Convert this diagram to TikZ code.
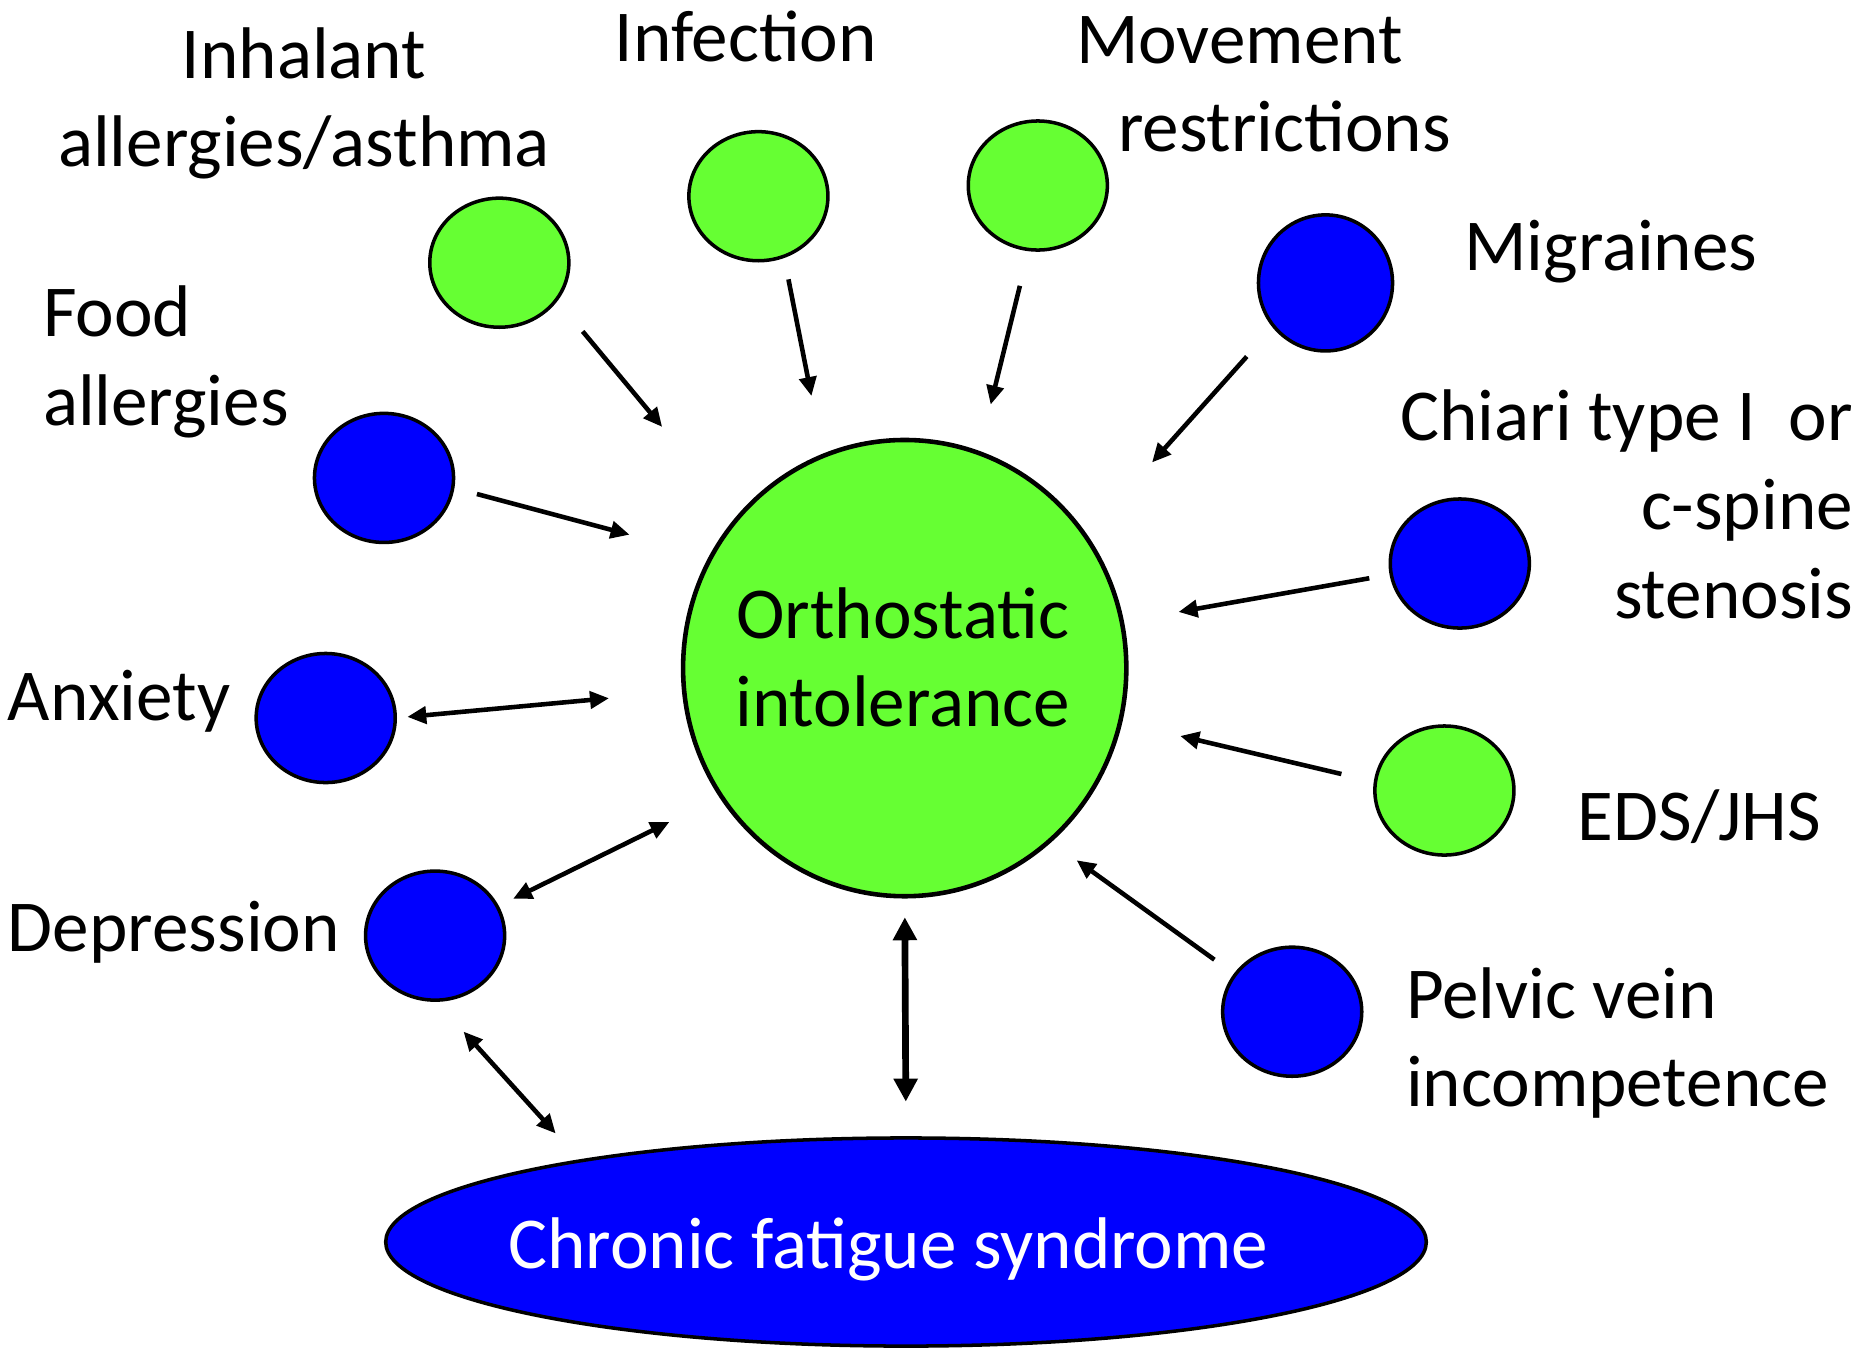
\documentclass[tikz,border=0pt]{standalone}
\usepackage{fontspec}
\setmainfont{Carlito}
\usepackage{tikz}
\usetikzlibrary{arrows.meta,shapes.geometric}
\definecolor{ohgreen}{RGB}{102,255,51}
\definecolor{ohblue}{RGB}{0,0,255}

\begin{document}
\begin{tikzpicture}[
  x=0.01cm, y=-0.01cm,
  font=\fontsize{20.8}{25.2}\selectfont,
  >={Triangle[length=1.9mm,width=1.7mm]},
  dot/.style={ellipse, draw=black, fill=#1, line width=1pt, inner sep=0pt, outer sep=0pt, minimum width=1.39cm, minimum height=1.29cm},
  dot/.default=ohblue,
  lbl/.style={inner sep=0pt, outer sep=0pt},
  flow/.style={line width=1.3pt, draw=black},
  bigflow/.style={line width=1.9pt, draw=black, {Triangle[length=2.3mm,width=2.3mm]}-{Triangle[length=2.3mm,width=2.3mm]}},
]
\useasboundingbox (0,0) rectangle (1864,1348);
% ---- centre and bottom ----
\node[ellipse, draw=black, fill=ohgreen, line width=1.3pt, inner sep=0pt, outer sep=0pt, minimum width=4.43cm, minimum height=4.56cm] (oi) at (904.7,668.1) {};
\node[lbl, anchor=base, align=center] (oilbl) at (902.8,726.7) {Orthostatic\\intolerance};
\node[ellipse, draw=black, fill=ohblue, line width=1pt, inner sep=0pt, outer sep=0pt, minimum width=10.4cm, minimum height=2.08cm] (cfs) at (906,1242) {};
\node[lbl, anchor=base, text=white] (cfslbl) at (888.4,1268.3) {Chronic fatigue syndrome};

% ---- factors ----
\node[dot=ohgreen] (inh) at (499.3,262.7) {};
\node[dot=ohgreen] (inf) at (758.4,196.2) {};
\node[dot=ohgreen] (mov) at (1037.8,185.5) {};
\node[dot, minimum width=1.34cm, minimum height=1.36cm] (mig) at (1325.5,282.9) {};
\node[dot] (food) at (384,477.9) {};
\node[dot] (chi) at (1459.8,563.5) {};
\node[dot] (anx) at (325.7,718) {};
\node[dot=ohgreen] (eds) at (1444.4,790.5) {};
\node[dot] (dep) at (435.1,935.6) {};
\node[dot] (pel) at (1292.2,1011.7) {};

% ---- labels (base = last line) ----
\node[lbl, anchor=base, align=center] (inhlbl) at (304,166.7) {Inhalant\\allergies/asthma};
\node[lbl, anchor=base] (inflbl) at (745.9,61.7) {Infection};
\node[lbl, anchor=base west, align=left] (movlbl) at (1076,151.7) {Movement\\\hspace*{0.42cm}restrictions};
\node[lbl, anchor=base] (miglbl) at (1610.8,270) {Migraines};
\node[lbl, anchor=base west, align=left] (foodlbl) at (43,425) {Food\\allergies};
\node[lbl, anchor=base east, align=right] (chilbl) at (1853,618) {Chiari type I\ \ or\\c-spine\\stenosis};
\node[lbl, anchor=base west] (anxlbl) at (8,720) {Anxiety};
\node[lbl, anchor=base] (edslbl) at (1699.2,840) {EDS/JHS};
\node[lbl, anchor=base west] (deplbl) at (8,951.7) {Depression};
\node[lbl, anchor=base west, align=left] (pellbl) at (1406,1106.7) {Pelvic vein\\incompetence};

% ---- arrows into the centre ----
\draw[flow, ->, shorten <=0.412cm, shorten >=1.183cm] (inh.-33.3) -- (oi.138.3);
\draw[flow, ->, shorten <=0.235cm, shorten >=0.61cm] (inf.-67.1) -- (oi.111.7);
\draw[flow, ->, shorten <=0.374cm, shorten >=0.499cm] (mov.-98.1) -- (oi.71.3);
\draw[flow, ->, shorten <=0.406cm, shorten >=0.993cm] (mig.220.3) -- (oi.36.3);
\draw[flow, ->, shorten <=0.25cm, shorten >=0.846cm] (food.-8.7) -- (oi.150.8);
\draw[flow, ->, shorten <=0.223cm, shorten >=0.576cm] (chi.189.7) -- (oi.12);
\draw[flow, <->, shorten <=0.121cm, shorten >=0.755cm] (anx.-0.8) -- (oi.186);
\draw[flow, ->, shorten <=0.35cm, shorten >=0.617cm] (eds.173.3) -- (oi.-14.7);
\draw[flow, <->, shorten <=0.176cm, shorten >=0.58cm] (dep.25.7) -- (oi.215.4);
\draw[flow, ->, shorten <=0.257cm, shorten >=0.333cm] (pel.147.7) -- (oi.-50.7);
% ---- links to CFS ----
\draw[flow, <->, shorten <=0.423cm, shorten >=0.369cm] (dep.-90) -- (cfs.166.8);
\draw[bigflow, shorten <=0.21cm, shorten >=0.363cm] (oi.south) -- (cfs.north);
\end{tikzpicture}
\end{document}
